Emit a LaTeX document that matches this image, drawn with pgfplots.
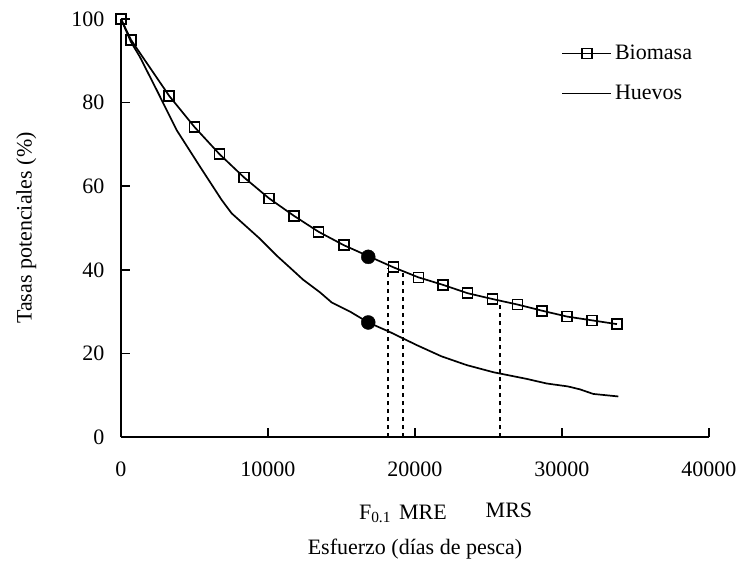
\documentclass[border=0pt]{standalone}
\usepackage{fontspec}
\setmainfont{Liberation Serif}
\usepackage{pgfplots}
\pgfplotsset{compat=1.18}
\begin{document}
\begin{tikzpicture}[font=\fontsize{22}{26}\selectfont]
\path[use as bounding box] (-121pt,-126pt) rectangle (619pt,437pt);
\begin{axis}[
  at={(0pt,0pt)}, anchor=south west,
  scale only axis, width=588pt, height=418pt,
  xmin=0, xmax=40000, ymin=0, ymax=100,
  axis x line*=bottom, axis y line*=left,
  axis line style={line width=1.8pt},
  xtick={0,10000,20000,30000,40000},
  ytick={0,20,40,60,80,100},
  tick align=inside,
  major tick length=9pt,
  tick style={line width=1.5pt, black},
  scaled ticks=false,
  /pgf/number format/1000 sep={},
  /pgf/number format/assume math mode=true,
  xticklabel style={yshift=-21.5pt},
  yticklabel style={xshift=-13pt},
  clip=false,
  xlabel={Esfuerzo (días de pesca)},
  ylabel={Tasas potenciales (\%)},
  every axis x label/.style={at={(axis description cs:0.5,0)}, anchor=base, yshift=-117pt},
  every axis y label/.style={at={(axis description cs:-0.152,0.5)}, rotate=90, anchor=base},
  legend style={draw=none, fill=none, at={(axis description cs:0.7435,0.947)}, anchor=north west, row sep=20pt},
  legend cell align=left,
  legend image code/.code={\draw[mark repeat=2,mark phase=2,#1] plot coordinates {(0pt,0pt)(24.5pt,0pt)(49pt,0pt)}; \path (50pt,0pt);},
]
\addplot[black, line width=1.7pt, mark=square, mark size=5pt, mark options={line width=1.6pt, fill=white}] coordinates {
(0,100) (680,95.0) (3280,81.6) (4990,74.2) (6690,67.7) (8370,62.1) (10070,57.1) (11770,52.9) (13440,49.1) (15150,45.9) (18530,40.6) (20230,38.2) (21900,36.4) (23580,34.4) (25280,33.0) (26960,31.7) (28660,30.2) (30360,28.8) (32060,27.9) (33740,27.0)
};
\addlegendentry{Biomasa}
\addplot[black, line width=1.7pt] coordinates {
(0,100) (680,94.5) (1290,90.9) (2430,83.0) (3790,73.4) (5370,64.7) (6850,56.7) (7530,53.5) (9460,47.4) (10590,43.4) (11500,40.5) (12400,37.6) (13540,34.6) (14330,32.2) (15580,30.0) (16820,27.4) (18300,25.1) (20110,22.0) (21800,19.3) (23520,17.2) (25330,15.5) (27600,13.9) (28960,12.8) (30400,12.1) (31220,11.4) (32130,10.3) (33830,9.7)
};
\addlegendentry{Huevos}
\addplot[black, only marks, mark=*, mark size=7pt, forget plot] coordinates {(16820,43.1) (16820,27.4)};
\addplot[black, line width=2pt, dash pattern=on 4pt off 4pt, forget plot] coordinates {(18180,0) (18180,40.5)};
\addplot[black, line width=2pt, dash pattern=on 4pt off 4pt, forget plot] coordinates {(19160,0) (19160,39.3)};
\addplot[black, line width=2pt, dash pattern=on 4pt off 4pt, forget plot] coordinates {(25780,0) (25780,32.3)};
\node[anchor=base] at (axis cs:17280,-19.7) {F\textsubscript{0.1}};
\node[anchor=base] at (axis cs:20540,-19.7) {MRE};
\node[anchor=base] at (axis cs:26390,-19.2) {MRS};
\end{axis}
\end{tikzpicture}
\end{document}
